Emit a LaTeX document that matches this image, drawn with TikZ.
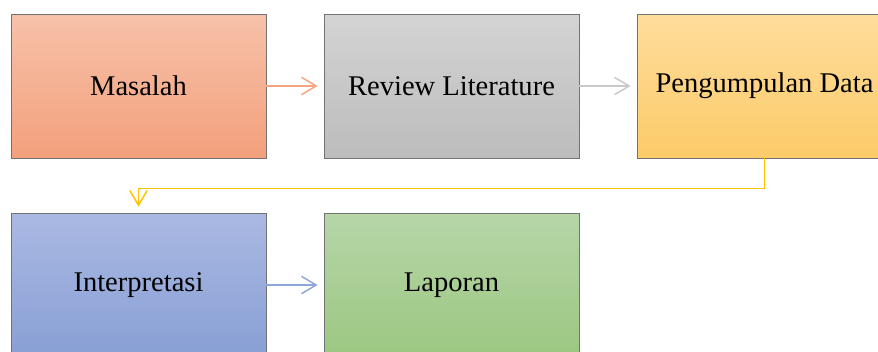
\documentclass[tikz,border=0pt]{standalone}
\usepackage{fontspec}
\setmainfont{Liberation Serif}
\usetikzlibrary{arrows.meta}

\definecolor{redtop}{HTML}{F7C1A9}
\definecolor{redbot}{HTML}{F3A07C}
\definecolor{greytop}{HTML}{D4D4D4}
\definecolor{greybot}{HTML}{BCBCBC}
\definecolor{yellowtop}{HTML}{FFDD9C}
\definecolor{yellowbot}{HTML}{FCCB69}
\definecolor{bluetop}{HTML}{AAB9E2}
\definecolor{bluebot}{HTML}{889FD5}
\definecolor{greentop}{HTML}{B6D6A8}
\definecolor{greenbot}{HTML}{9CC782}
\definecolor{redline}{HTML}{F4A57F}
\definecolor{greyline}{HTML}{C9C9C9}
\definecolor{yellowline}{HTML}{FFC000}
\definecolor{blueline}{HTML}{8EA7DA}

\begin{document}
\begin{tikzpicture}[x=0.75pt,y=-0.75pt]
\useasboundingbox (0,0) rectangle (878,351);
\clip (0,0) rectangle (878,351);

\begin{scope}[every node/.style={rectangle,draw=black!55,line width=0.6pt,
    minimum width=191.25pt,minimum height=108pt,
    font=\fontsize{21.4}{25}\selectfont}]
    \node[top color=redtop,bottom color=redbot] (M) at (138.5,86) {Masalah};
    \node[top color=greytop,bottom color=greybot] (R) at (451.5,86) {Review Literature};
    \node[top color=yellowtop,bottom color=yellowbot] (P) at (764.5,86) {Pengumpulan Data};

    \node[top color=bluetop,bottom color=bluebot] (I) at (138.5,285) {Interpretasi};
    \node[top color=greentop,bottom color=greenbot] (L) at (451.5,285) {Laporan};
\end{scope}

\begin{scope}[line width=1.1pt,shorten >=4.5pt,
    >={Straight Barb[length=11pt,width=13pt,line width=1.1pt]}]
    \path [->,redline] (M) edge (R);
    \path [->,greyline] (R) edge (P);
    \draw [->,yellowline] (P.south) -- ++(0,30) -| (I.north);
    \path [->,blueline] (I) edge (L);
\end{scope}
\end{tikzpicture}
\end{document}
